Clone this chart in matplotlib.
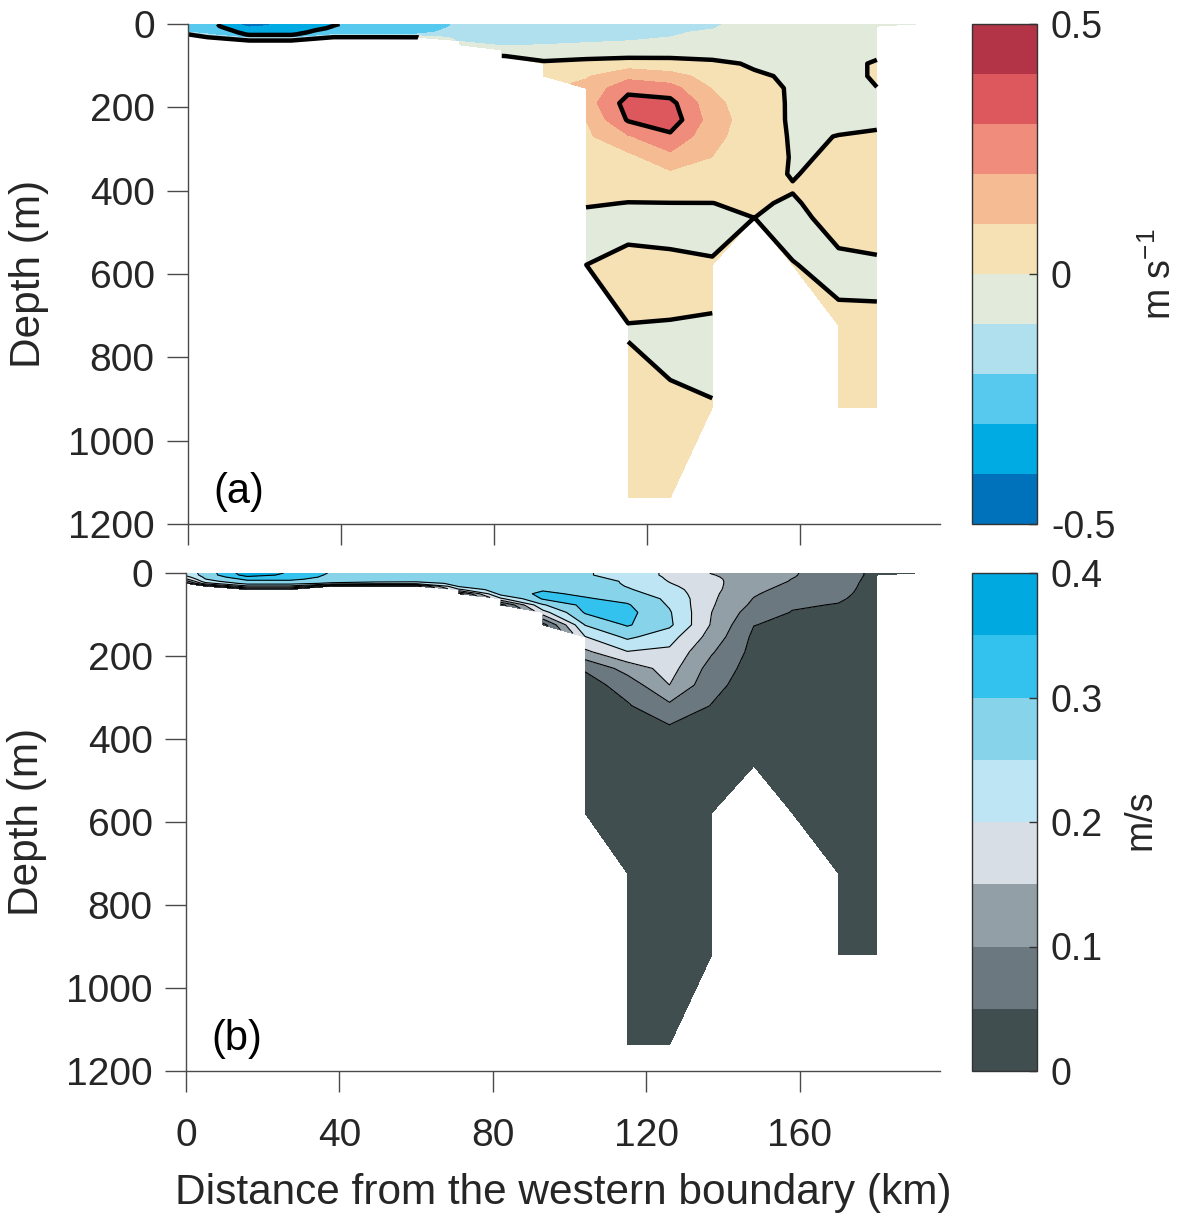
import numpy as np
import matplotlib
matplotlib.use("Agg")
import matplotlib.pyplot as plt

plt.rcParams['font.family'] = ['Liberation Sans', 'DejaVu Sans']

# ---------------- data ----------------
distance_km = [0, 5, 16, 27, 38, 49, 60, 71, 82, 93, 104, 115, 126, 137, 148, 158, 170, 180, 190]
depth_m = [0, 5, 10, 15, 20, 25, 32, 40, 50, 62, 77, 95, 125, 154, 190, 230, 270,
           320, 360, 395, 430, 465, 578, 723, 920, 1137]

# (a) velocity profiles (m/s), one list per station, from the surface down to the bottom
velocity_profiles = [
    [-0.24, -0.24, -0.23, -0.22, -0.195, 0.005],
    [-0.25, -0.25, -0.24, -0.23, -0.22, -0.195, 0.01],
    [-0.45, -0.42, -0.38, -0.35, -0.33, -0.31, -0.25, 0.01],
    [-0.37, -0.36, -0.35, -0.34, -0.33, -0.31, -0.25, 0.01],
    [-0.305, -0.299, -0.29, -0.27, -0.25, -0.22, 0.01],
    [-0.27, -0.265, -0.26, -0.25, -0.24, -0.22, 0.01],
    [-0.24, -0.235, -0.23, -0.225, -0.22, -0.195, 0.002],
    [-0.19, -0.19, -0.185, -0.18, -0.17, -0.16, -0.14, -0.11, -0.06],
    [-0.18, -0.18, -0.175, -0.17, -0.165, -0.155, -0.14, -0.13, -0.11, -0.06, 0.002],
    [-0.17, -0.17, -0.165, -0.16, -0.15, -0.14, -0.13, -0.12, -0.099, -0.07, -0.02, 0.01, 0.05],
    [-0.16, -0.155, -0.15, -0.145, -0.14, -0.13, -0.12, -0.11, -0.09, -0.06, -0.02, 0.03, 0.09,
     0.13, 0.15, 0.101, 0.08, 0.06, 0.04, 0.025, 0.008, -0.02, -0.0001],
    [-0.15, -0.15, -0.14, -0.135, -0.13, -0.12, -0.11, -0.101, -0.08, -0.05, -0.015, 0.05, 0.17,
     0.27, 0.34, 0.31, 0.19, 0.07, 0.05, 0.03, -0.002, -0.02, 0.015, -0.0005, 0.002, 0.02],
    [-0.14, -0.135, -0.13, -0.12, -0.115, -0.11, -0.099, -0.09, -0.07, -0.045, -0.01, 0.03, 0.14,
     0.24, 0.33, 0.36, 0.28, 0.17, 0.08, 0.04, -0.001, -0.02, 0.01, -0.001, 0.0005, 0.01],
    [-0.12, -0.11, -0.105, -0.095, -0.08, -0.07, -0.06, -0.05, -0.04, -0.03, -0.01, 0.01, 0.06,
     0.095, 0.13, 0.15, 0.13, 0.098, 0.06, 0.03, -0.0005, -0.015, 0.0032, -0.0008, 0.0001],
    [-0.05, -0.05, -0.048, -0.046, -0.044, -0.042, -0.04, -0.035, -0.03, -0.02, -0.012, -0.005,
     0.005, 0.02, 0.035, 0.04, 0.04, 0.035, 0.03, 0.02, 0.01, 0.0001],
    [-0.06, -0.06, -0.06, -0.055, -0.05, -0.05, -0.045, -0.04, -0.035, -0.03, -0.02, -0.01,
     -0.005, -0.006, -0.009, -0.01, -0.007, -0.004, -0.005, 0.005, -0.01, -0.02, 0.002],
    [-0.06, -0.06, -0.058, -0.056, -0.054, -0.052, -0.05, -0.047, -0.044, -0.04, -0.035, -0.03,
     -0.03, -0.02, -0.015, -0.01, 0.001, 0.0045, 0.028, 0.035, 0.042, 0.027, -0.0148, 0.0108, 0.02],
    [-0.05, -0.05, -0.048, -0.046, -0.044, -0.042, -0.04, -0.035, -0.03, -0.02, -0.01, 0.01,
     0.01, -0.001, -0.01, -0.003, 0.002, 0.01, 0.015, 0.015, 0.012, 0.01, -0.0027, 0.00175, 0.01],
    [-0.04],
]

# (b) speed profiles (m/s)
speed_profiles = [
    [0.22, 0.21, 0.18, 0.14, 0.08, 0.02],
    [0.27, 0.27, 0.26, 0.248, 0.23, 0.18, 0.02],
    [0.38, 0.37, 0.34, 0.31, 0.29, 0.27, 0.19, 0.02],
    [0.345, 0.34, 0.33, 0.31, 0.29, 0.27, 0.19, 0.02],
    [0.295, 0.29, 0.285, 0.28, 0.27, 0.24, 0.03],
    [0.285, 0.28, 0.28, 0.275, 0.265, 0.22, 0.03],
    [0.28, 0.28, 0.275, 0.27, 0.26, 0.22, 0.03],
    [0.28, 0.28, 0.28, 0.275, 0.27, 0.265, 0.255, 0.19, 0.03],
    [0.28, 0.28, 0.28, 0.28, 0.28, 0.28, 0.28, 0.285, 0.27, 0.19, 0.03],
    [0.28, 0.28, 0.28, 0.28, 0.285, 0.29, 0.29, 0.295, 0.31, 0.305, 0.245, 0.18, 0.03],
    [0.255, 0.255, 0.26, 0.265, 0.27, 0.275, 0.28, 0.285, 0.29, 0.305, 0.315, 0.305, 0.252,
     0.198, 0.14, 0.055, 0.03, 0.025, 0.022, 0.02, 0.02, 0.02, 0.02],
    [0.23, 0.23, 0.235, 0.24, 0.245, 0.245, 0.248, 0.255, 0.265, 0.285, 0.305, 0.315, 0.305,
     0.26, 0.198, 0.12, 0.07, 0.045, 0.035, 0.03, 0.025, 0.022, 0.02, 0.02, 0.02, 0.02],
    [0.19, 0.19, 0.193, 0.195, 0.198, 0.202, 0.21, 0.22, 0.23, 0.24, 0.245, 0.255, 0.26,
     0.22, 0.19, 0.17, 0.15, 0.09, 0.052, 0.04, 0.03, 0.025, 0.02, 0.02, 0.02, 0.02],
    [0.148, 0.152, 0.155, 0.158, 0.16, 0.162, 0.163, 0.163, 0.16, 0.158, 0.155, 0.15, 0.145,
     0.13, 0.105, 0.08, 0.065, 0.048, 0.035, 0.03, 0.025, 0.022, 0.02, 0.02, 0.02],
    [0.13, 0.13, 0.13, 0.128, 0.125, 0.12, 0.115, 0.11, 0.105, 0.098, 0.09, 0.075, 0.051,
     0.04, 0.035, 0.03, 0.025, 0.022, 0.02, 0.02, 0.02, 0.02],
    [0.105, 0.104, 0.102, 0.099, 0.097, 0.094, 0.09, 0.085, 0.075, 0.065, 0.055, 0.048, 0.04,
     0.035, 0.03, 0.027, 0.025, 0.023, 0.022, 0.021, 0.02, 0.02, 0.02],
    [0.07, 0.07, 0.069, 0.068, 0.067, 0.066, 0.065, 0.063, 0.06, 0.055, 0.048, 0.042, 0.035,
     0.03, 0.027, 0.025, 0.023, 0.022, 0.021, 0.02, 0.02, 0.02, 0.02, 0.02, 0.02],
    [0.04, 0.04, 0.039, 0.038, 0.037, 0.036, 0.035, 0.034, 0.033, 0.032, 0.03, 0.028, 0.026,
     0.025, 0.024, 0.023, 0.022, 0.021, 0.02, 0.02, 0.02, 0.02, 0.02, 0.02, 0.02],
    [0.03],
]

velocity_levels = [-0.5, -0.4, -0.3, -0.2, -0.1, 0.0, 0.1, 0.2, 0.3, 0.4, 0.5]
velocity_colors = ['#0072bc', '#00aae2', '#57c9ef', '#b0dfee', '#e2eadc',
                   '#f5e1b4', '#f5bc94', '#ef8c7b', '#dc585c', '#b33446']
velocity_line_levels = [-0.3, 0.0, 0.3]
velocity_ticks = [-0.5, 0, 0.5]
velocity_ticklabels = ['-0.5', '0', '0.5']

speed_levels = [0.0, 0.05, 0.1, 0.15, 0.2, 0.25, 0.3, 0.35, 0.4]
speed_colors = ['#414e50', '#6c787f', '#939fa7', '#d8dee5',
                '#bee5f3', '#87d3ea', '#33c2ed', '#00a9e0']
speed_ticks = [0, 0.1, 0.2, 0.3, 0.4]
speed_ticklabels = ['0', '0.1', '0.2', '0.3', '0.4']

x_ticks = [0, 40, 80, 120, 160]
y_ticks = [0, 200, 400, 600, 800, 1000, 1200]


def to_grid(profiles):
    g = np.full((len(depth_m), len(distance_km)), np.nan)
    for j, prof in enumerate(profiles):
        g[:len(prof), j] = prof
    return np.ma.masked_invalid(g)


X, Y = np.meshgrid(distance_km, depth_m)
U = to_grid(velocity_profiles)
S = to_grid(speed_profiles)

W, H = 1178, 1218
fig = plt.figure(figsize=(W / 100, H / 100), dpi=100)
ax1 = fig.add_axes([188 / W, 1 - 524 / H, 752 / W, 500 / H])
ax2 = fig.add_axes([186 / W, 1 - 1071 / H, 754 / W, 498 / H])
cax1 = fig.add_axes([972 / W, 1 - 524 / H, 65 / W, 500 / H])
cax2 = fig.add_axes([972 / W, 1 - 1071 / H, 65 / W, 498 / H])

tick_col = '#262626'
spine_col = '#4a4a4a'
fs_tick = 28
fs_cbar = 27
fs_label = 30.5

cf1 = ax1.contourf(X, Y, U, levels=velocity_levels, colors=velocity_colors)
ax1.contour(X, Y, U, levels=velocity_line_levels, colors='k', linewidths=3.2,
            linestyles='solid')

cf2 = ax2.contourf(X, Y, S, levels=speed_levels, colors=speed_colors)
ax2.contour(X, Y, S, levels=speed_levels[1:-1], colors='k', linewidths=0.8,
            linestyles='solid')

for ax, lab in ((ax1, '(a)'), (ax2, '(b)')):
    ax.set_xlim(0, 196.5)
    ax.set_ylim(1200, 0)
    ax.set_xticks(x_ticks)
    ax.set_yticks(y_ticks)
    for s in ('top', 'right'):
        ax.spines[s].set_visible(False)
    for s in ('left', 'bottom'):
        ax.spines[s].set_color(spine_col)
        ax.spines[s].set_linewidth(1.0)
    ax.tick_params(direction='out', length=15, width=1.0, color=spine_col,
                   labelcolor=tick_col, labelsize=fs_tick, pad=9)
    ax.set_ylabel('Depth (m)', fontsize=fs_label, color=tick_col)
    ax.yaxis.set_label_coords(-0.185, 0.5)
    ax.text(6.5, 1150, lab, fontsize=30, color='k', ha='left', va='baseline')

ax1.set_xticklabels([])
ax2.tick_params(axis='x', pad=19)
ax2.set_xlabel('Distance from the western boundary (km)', fontsize=fs_label, color=tick_col)
ax2.xaxis.set_label_coords(0.5, -0.205)

cb1 = fig.colorbar(cf1, cax=cax1, ticks=velocity_ticks)
cb1.ax.set_yticklabels(velocity_ticklabels)
cb2 = fig.colorbar(cf2, cax=cax2, ticks=speed_ticks)
cb2.ax.set_yticklabels(speed_ticklabels)
for cb in (cb1, cb2):
    cb.outline.set_linewidth(1.0)
    cb.outline.set_edgecolor('#333333')
    cb.ax.tick_params(direction='in', length=6, width=1.0, color='#333333',
                      labelcolor=tick_col, labelsize=fs_cbar, pad=10)

fig.text(1160 / W, 1 - 274 / H, 'm s$^{\\mathregular{-1}}$', rotation=90, fontsize=fs_cbar,
         color=tick_col, ha='center', va='center')
fig.text(1140 / W, 1 - 820 / H, 'm/s', rotation=90, fontsize=fs_cbar,
         color=tick_col, ha='center', va='center')

fig.savefig('out.png', dpi=100)
